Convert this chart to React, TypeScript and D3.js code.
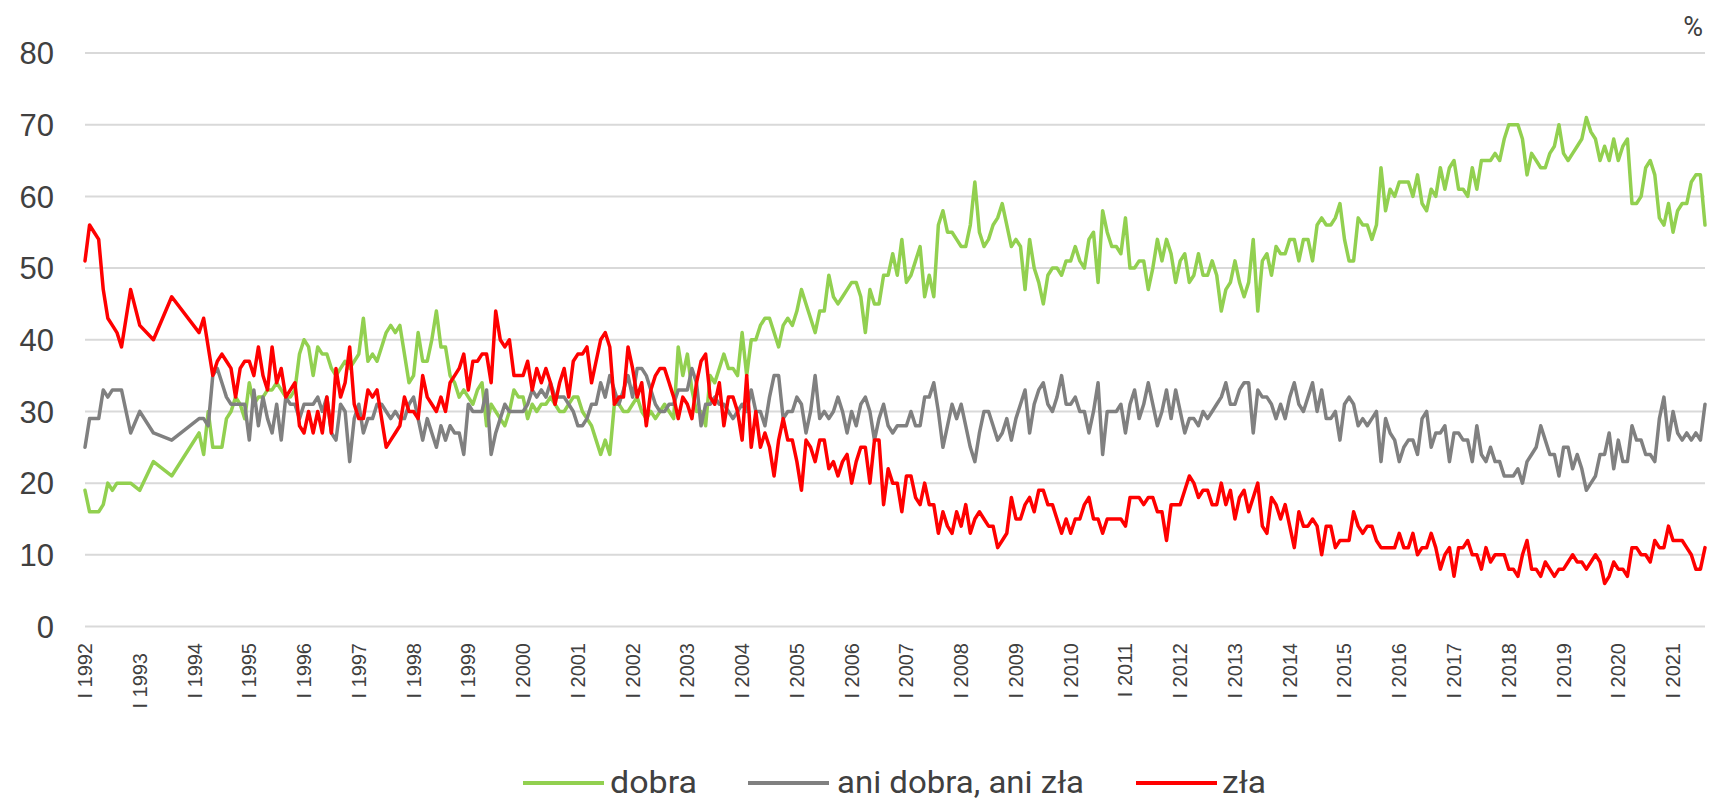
import React from "react";
import * as d3 from "d3";

// Monthly series, index 0 = I 1992, last = VIII 2021 (null = no survey)
const dobra: (number | null)[] = [
  19, 16, 16, 16, 17, 20, 19, 20, 20, null, 20, null,
  19, null, null, 23, null, null, null, 21, null, null, null, null,
  null, 27, 24, 30, 25, 25, 25, 29, 30, 32, 31, 29,
  34, 31, 32, 32, 33, 33, 34, 33, 32, 32, 33, 38,
  40, 39, 35, 39, 38, 38, 36, 35, 36, 37, 36, 37,
  38, 43, 37, 38, 37, 39, 41, 42, 41, 42, 38, 34,
  35, 41, 37, 37, 40, 44, 39, 39, 35, 34, 32, 33,
  32, 31, 33, 34, 28, 31, 30, 29, 28, 30, 33, 32,
  32, 29, 31, 30, 31, 31, 32, 31, 30, 30, 31, 32,
  32, 30, 29, 28, 26, 24, 26, 24, 31, 31, 30, 30,
  31, 32, 30, 29, 30, 29, 30, 31, 30, 29, 39, 35,
  38, 33, 30, 30, 28, 35, 34, 36, 38, 36, 36, 35,
  41, 35, 40, 40, 42, 43, 43, 41, 39, 42, 43, 42,
  44, 47, 45, 43, 41, 44, 44, 49, 46, 45, 46, 47,
  48, 48, 46, 41, 47, 45, 45, 49, 49, 52, 49, 54,
  48, 49, 51, 53, 46, 49, 46, 56, 58, 55, 55, 54,
  53, 53, 56, 62, 55, 53, 54, 56, 57, 59, 56, 53,
  54, 53, 47, 54, 50, 48, 45, 49, 50, 50, 49, 51,
  51, 53, 51, 50, 54, 55, 48, 58, 55, 53, 53, 52,
  57, 50, 50, 51, 51, 47, 50, 54, 51, 54, 52, 48,
  51, 52, 48, 49, 52, 49, 49, 51, 49, 44, 47, 48,
  51, 48, 46, 48, 54, 44, 51, 52, 49, 53, 52, 52,
  54, 54, 51, 54, 54, 51, 56, 57, 56, 56, 57, 59,
  54, 51, 51, 57, 56, 56, 54, 56, 64, 58, 61, 60,
  62, 62, 62, 60, 63, 59, 58, 61, 60, 64, 61, 64,
  65, 61, 61, 60, 64, 61, 65, 65, 65, 66, 65, 68,
  70, 70, 70, 68, 63, 66, 65, 64, 64, 66, 67, 70,
  66, 65, 66, 67, 68, 71, 69, 68, 65, 67, 65, 68,
  65, 67, 68, 59, 59, 60, 64, 65, 63, 57, 56, 59,
  55, 58, 59, 59, 62, 63, 63, 56,
];

const aniDobraAniZla: (number | null)[] = [
  25, 29, 29, 29, 33, 32, 33, 33, 33, null, 27, null,
  30, null, null, 27, null, null, null, 26, null, null, null, null,
  null, 29, 29, 28, 35, 36, 34, 32, 31, 31, 31, 31,
  26, 33, 28, 32, 29, 27, 31, 26, 32, 31, 31, 29,
  31, 31, 31, 32, 30, 32, 27, 26, 31, 30, 23, 29,
  31, 27, 29, 29, 31, 31, 30, 29, 30, 29, 29, 31,
  32, 29, 26, 29, 27, 25, 28, 26, 28, 27, 27, 24,
  31, 30, 30, 30, 33, 24, 27, 29, 31, 30, 30, 30,
  30, 31, 33, 32, 33, 32, 34, 32, 32, 32, 31, 30,
  28, 28, 29, 31, 31, 34, 32, 35, 33, 31, 33, 35,
  32, 36, 36, 35, 33, 31, 30, 30, 31, 31, 33, 33,
  33, 36, 34, 28, 31, 31, 32, 31, 31, 30, 29, 30,
  31, 30, 33, 30, 30, 28, 32, 35, 35, 29, 30, 30,
  32, 31, 27, 30, 35, 29, 30, 29, 30, 32, 30, 27,
  30, 28, 31, 32, 30, 26, 29, 31, 28, 27, 28, 28,
  28, 30, 28, 28, 32, 32, 34, 30, 25, 28, 31, 29,
  31, 28, 25, 23, 27, 30, 30, 28, 26, 27, 29, 26,
  29, 31, 33, 27, 31, 33, 34, 31, 30, 32, 35, 31,
  31, 32, 30, 30, 27, 30, 34, 24, 30, 30, 30, 31,
  27, 31, 33, 29, 31, 34, 31, 28, 30, 33, 29, 33,
  30, 27, 29, 29, 28, 30, 29, 30, 31, 32, 34, 31,
  31, 33, 34, 34, 27, 33, 32, 32, 31, 29, 31, 29,
  32, 34, 31, 30, 32, 34, 30, 33, 29, 29, 30, 26,
  31, 32, 31, 28, 29, 28, 29, 30, 23, 29, 27, 26,
  23, 25, 26, 26, 24, 29, 30, 25, 27, 27, 28, 23,
  27, 27, 26, 26, 23, 28, 24, 23, 25, 23, 23, 21,
  21, 21, 22, 20, 23, 24, 25, 28, 26, 24, 24, 21,
  25, 25, 22, 24, 22, 19, 20, 21, 24, 24, 27, 22,
  26, 23, 23, 28, 26, 26, 24, 24, 23, 29, 32, 26,
  30, 27, 26, 27, 26, 27, 26, 31,
];

const zla: (number | null)[] = [
  51, 56, 55, 54, 47, 43, 42, 41, 39, null, 47, null,
  42, null, null, 40, null, null, null, 46, null, null, null, null,
  null, 41, 43, 39, 35, 37, 38, 37, 36, 32, 36, 37,
  37, 35, 39, 35, 33, 39, 34, 36, 32, 33, 34, 28,
  27, 30, 27, 30, 27, 32, 27, 36, 32, 34, 39, 31,
  29, 29, 33, 32, 33, 29, 25, 26, 27, 28, 32, 30,
  30, 29, 35, 32, 31, 30, 32, 30, 34, 35, 36, 38,
  33, 37, 37, 38, 38, 34, 44, 40, 39, 40, 35, 35,
  35, 37, 33, 36, 34, 36, 34, 31, 34, 36, 32, 37,
  38, 38, 39, 34, 37, 40, 41, 39, 31, 32, 32, 39,
  36, 32, 34, 28, 33, 35, 36, 36, 34, 32, 29, 32,
  31, 29, 34, 37, 38, 32, 31, 34, 28, 32, 32, 30,
  26, 35, 25, 30, 25, 27, 25, 21, 26, 29, 26, 26,
  23, 19, 26, 25, 23, 26, 26, 22, 23, 21, 23, 24,
  20, 23, 25, 25, 20, 26, 26, 17, 22, 20, 20, 16,
  21, 21, 18, 17, 20, 17, 17, 13, 16, 14, 13, 16,
  14, 17, 13, 15, 16, 15, 14, 14, 11, 12, 13, 18,
  15, 15, 17, 18, 16, 19, 19, 17, 17, 15, 13, 15,
  13, 15, 15, 17, 18, 15, 15, 13, 15, 15, 15, 15,
  14, 18, 18, 18, 17, 18, 18, 16, 16, 12, 17, 17,
  17, 19, 21, 20, 18, 19, 19, 17, 17, 20, 17, 19,
  15, 18, 19, 16, 18, 20, 14, 13, 18, 17, 15, 17,
  14, 11, 16, 14, 14, 15, 14, 10, 14, 14, 11, 12,
  12, 12, 16, 14, 13, 14, 14, 12, 11, 11, 11, 11,
  13, 11, 11, 13, 10, 11, 11, 13, 11, 8, 10, 11,
  7, 11, 11, 12, 10, 10, 8, 11, 9, 10, 10, 10,
  8, 8, 7, 10, 12, 8, 8, 7, 9, 8, 7, 8,
  8, 9, 10, 9, 9, 8, 9, 10, 9, 6, 7, 9,
  8, 8, 7, 11, 11, 10, 10, 9, 12, 11, 11, 14,
  12, 12, 12, 11, 10, 8, 8, 11,
];

const years = d3.range(1992, 2022);
const tickLabels = years.map((y) => `I ${y}`);
const yTicks = [0, 10, 20, 30, 40, 50, 60, 70, 80];
const seriesNames = ["dobra", "ani dobra, ani zła", "zła"];
const seriesColors = ["#92D050", "#808080", "#FF0000"];
const seriesData = [dobra, aniDobraAniZla, zla];

const W = 1712;
const H = 801;
const PLOT = { left: 85, right: 1705, top: 53, bottom: 626.5 };
const TEXT = "#404040";

export default function App() {
  const n = dobra.length;
  const x = d3.scaleLinear().domain([0, n - 1]).range([PLOT.left, PLOT.right]);
  const y = d3.scaleLinear().domain([0, 80]).range([PLOT.bottom, PLOT.top]);

  const line = d3
    .line<{ i: number; v: number }>()
    .x((d) => x(d.i))
    .y((d) => y(d.v));

  const paths = seriesData.map((arr) =>
    line(
      arr
        .map((v, i) => ({ i, v: v as number }))
        .filter((d) => d.v !== null && d.v !== undefined)
    )
  );

  const legendItems = [
    { x1: 523, x2: 604, tx: 610, tw: 87 },
    { x1: 748, x2: 829, tx: 837, tw: 247 },
    { x1: 1136, x2: 1217, tx: 1222, tw: 44 },
  ];

  return (
    <svg
      width={W}
      height={H}
      style={{ position: "absolute", left: 0, top: 0, background: "#fff" }}
    >
      <rect x={0} y={0} width={W} height={H} fill="#fff" />
      {yTicks.map((t) => (
        <g key={t}>
          <line
            x1={PLOT.left}
            x2={PLOT.right}
            y1={y(t)}
            y2={y(t)}
            stroke="#d9d9d9"
            strokeWidth={2}
          />
          <text
            x={54}
            y={y(t)}
            dy="0.36em"
            textAnchor="end"
            fontFamily="'Liberation Sans', Arial, sans-serif"
            fontSize={31}
            fill={TEXT}
          >
            {t}
          </text>
        </g>
      ))}
      <text
        x={1703}
        y={36}
        textAnchor="end"
        fontFamily="Roboto, 'Liberation Sans', sans-serif"
        fontSize={27}
        fill={TEXT}
      >
        %
      </text>
      {tickLabels.map((lab, k) => {
        const cx = x(k * 12);
        const extra = lab === "I 1993" ? 10 : 0;
        return (
          <text
            key={lab}
            transform={`translate(${cx},${643 + extra}) rotate(-90)`}
            dy="0.35em"
            textAnchor="end"
            fontFamily="'Liberation Sans', Arial, sans-serif"
            fontSize={20}
            fill={TEXT}
          >
            {lab}
          </text>
        );
      })}
      {paths.map((p, k) => (
        <path
          key={k}
          d={p || ""}
          fill="none"
          stroke={seriesColors[k]}
          strokeWidth={3.5}
          strokeLinejoin="round"
          strokeLinecap="round"
        />
      ))}
      {legendItems.map((it, k) => (
        <g key={k}>
          <line
            x1={it.x1}
            x2={it.x2}
            y1={783}
            y2={783}
            stroke={seriesColors[k]}
            strokeWidth={4}
          />
          <text
            x={it.tx}
            y={793}
            textLength={it.tw}
            lengthAdjust="spacingAndGlyphs"
            fontFamily="Roboto, 'Noto Sans', sans-serif"
            fontSize={32}
            fill={TEXT}
          >
            {seriesNames[k]}
          </text>
        </g>
      ))}
    </svg>
  );
}
